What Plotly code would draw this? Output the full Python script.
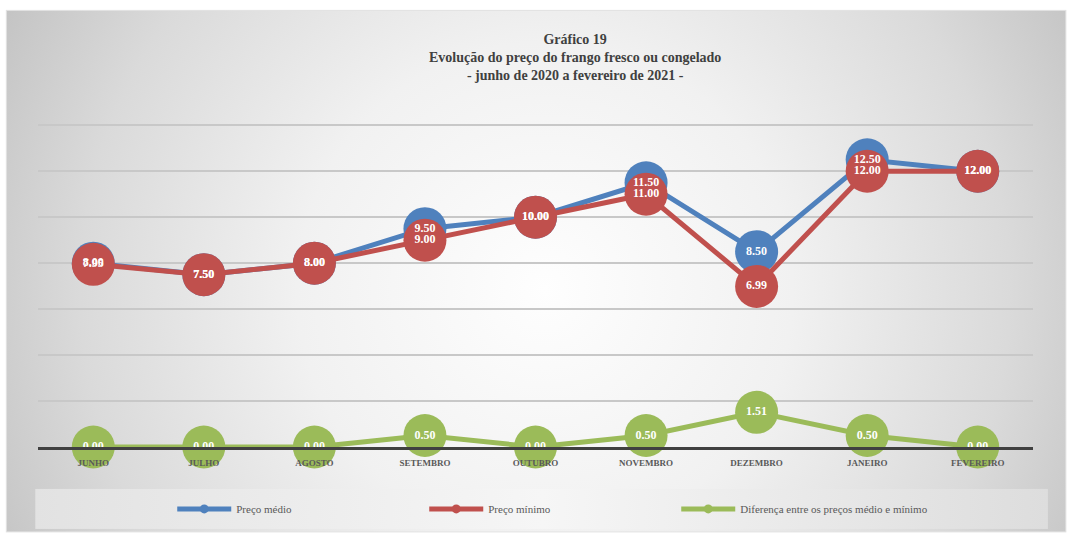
import base64
import plotly.graph_objects as go

months = ["JUNHO", "JULHO", "AGOSTO", "SETEMBRO", "OUTUBRO", "NOVEMBRO", "DEZEMBRO", "JANEIRO", "FEVEREIRO"]
preco_medio = [8.00, 7.50, 8.00, 9.50, 10.00, 11.50, 8.50, 12.50, 12.00]
preco_minimo = [7.95, 7.50, 8.00, 9.00, 10.00, 11.00, 6.99, 12.00, 12.00]
diferenca = [0.00, 0.00, 0.00, 0.50, 0.00, 0.50, 1.51, 0.50, 0.00]

series_names = ["Preço médio", "Preço mínimo", "Diferença entre os preços médio e mínimo"]
colors = ["#4f81bd", "#c0504d", "#9bbb59"]
title_lines = ["Gráfico 19", "Evolução do preço do frango fresco ou congelado",
               "- junho de 2020 a fevereiro de 2021 -"]

W, H = 1072, 535
L, R, T, B = 37.7, W - 1033.1, 122.7, H - 447
PW, PH = W - L - R, H - T - B

FONT = "Liberation Serif, DejaVu Serif, serif"

# background (radial gradient chart area + legend box) as inline SVG
svg = f'''<svg xmlns="http://www.w3.org/2000/svg" width="{W}" height="{H}" viewBox="0 0 {W} {H}">
<defs>
<radialGradient id="g" gradientUnits="userSpaceOnUse" cx="545" cy="290" r="620">
<stop offset="0" stop-color="#fefefe"/><stop offset="0.4" stop-color="#f1f1f1"/>
<stop offset="0.75" stop-color="#dadada"/><stop offset="1" stop-color="#c2c2c2"/></radialGradient>
<linearGradient id="lg" x1="0" y1="0" x2="1" y2="0">
<stop offset="0" stop-color="#e2e2e2"/><stop offset="0.5" stop-color="#f6f6f6"/>
<stop offset="1" stop-color="#dddddd"/></linearGradient>
</defs>
<rect x="0" y="0" width="{W}" height="{H}" fill="#ffffff"/>
<rect x="6" y="10" width="1060" height="522" fill="url(#g)" stroke="#e2e2e2" stroke-width="1"/>
<rect x="35" y="489" width="1013" height="40" fill="url(#lg)"/>
</svg>'''
src = "data:image/svg+xml;base64," + base64.b64encode(svg.encode()).decode()

fig = go.Figure()

for name, vals, col in zip(series_names, [preco_medio, preco_minimo, diferenca], colors):
    fig.add_trace(go.Scatter(
        x=months, y=vals, mode="lines+markers", name=name, showlegend=False,
        line=dict(color=col, width=5), marker=dict(color=col, size=43),
        cliponaxis=False, hoverinfo="skip"))

for vals in [preco_medio, preco_minimo, diferenca]:
    fig.add_trace(go.Scatter(
        x=months, y=vals, mode="text", showlegend=False,
        text=[f"{v:.2f}" for v in vals], textposition="middle center",
        textfont=dict(family=FONT, size=12, color="#ffffff", weight="bold"),
        cliponaxis=False, hoverinfo="skip"))

for name, col in zip(series_names, colors):
    fig.add_trace(go.Scatter(
        x=[None], y=[None], mode="lines+markers", name=name,
        line=dict(color=col, width=5), marker=dict(color=col, size=9)))

fig.add_annotation(
    xref="paper", yref="paper", x=(575 - L) / PW, y=(447 - 57) / PH,
    xanchor="center", yanchor="middle", showarrow=False,
    text="<br>".join(title_lines),
    font=dict(family=FONT, size=14, color="#404040", weight="bold"))

fig.add_layout_image(dict(
    source=src, xref="paper", yref="paper", x=-L / PW, y=1 + T / PH,
    sizex=W / PW, sizey=H / PH, sizing="stretch", xanchor="left", yanchor="top",
    layer="below"))

fig.update_layout(
    width=W, height=H, margin=dict(l=L, r=R, t=T, b=B, pad=0),
    paper_bgcolor="#ffffff", plot_bgcolor="rgba(0,0,0,0)",
    showlegend=True,
    legend=dict(orientation="h", x=(172 - L) / PW, xanchor="left",
                y=(447 - 509) / PH, yanchor="middle",
                bgcolor="rgba(0,0,0,0)", itemwidth=54,
                entrywidth=183, entrywidthmode="pixels",
                font=dict(family=FONT, size=11, color="#595959")),
    xaxis=dict(type="category", range=[-0.5, 8.5], showgrid=False,
               showline=True, linecolor="#404040", linewidth=3,
               ticks="", ticklabelstandoff=5,
               tickfont=dict(family=FONT, size=9, color="#595959", weight="bold"),
               fixedrange=True),
    yaxis=dict(range=[0, 14.1], tickvals=[2, 4, 6, 8, 10, 12, 14], showgrid=True,
               gridcolor="#c8c8c8", gridwidth=1.5,
               showticklabels=False, zeroline=False, showline=False, fixedrange=True),
)

fig.write_html("out.html", config={"displayModeBar": False},
               post_script="document.body.style.margin='0';")
